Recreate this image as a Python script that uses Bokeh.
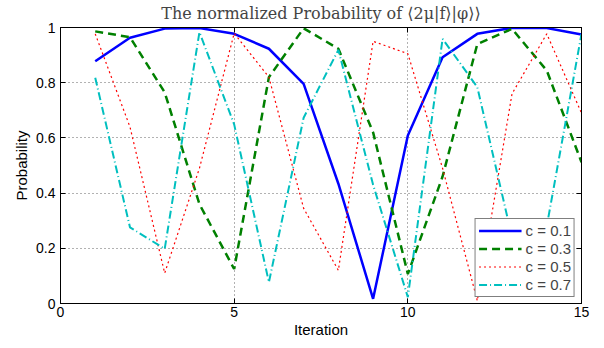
from bokeh.plotting import figure
from bokeh.models import Range1d, FixedTicker, LinearAxis, Legend, LegendItem
from bokeh.embed import file_html
from bokeh.resources import INLINE

iterations = list(range(1, 16))
prob_c01 = [0.878, 0.963, 0.996, 0.998, 0.977, 0.923, 0.796, 0.434, 0.017, 0.609, 0.892, 0.977, 0.999, 0.998, 0.975]
prob_c03 = [0.986, 0.965, 0.765, 0.36, 0.125, 0.82, 0.997, 0.923, 0.62, 0.107, 0.46, 0.94, 0.995, 0.844, 0.512]
prob_c05 = [0.977, 0.64, 0.11, 0.49, 0.979, 0.82, 0.345, 0.12, 0.95, 0.905, 0.49, 0.01, 0.76, 0.977, 0.69]
prob_c07 = [0.818, 0.276, 0.198, 0.983, 0.649, 0.077, 0.673, 0.919, 0.43, 0.023, 0.959, 0.784, 0.24, 0.28, 0.977]
series_labels = ["c = 0.1", "c = 0.3", "c = 0.5", "c = 0.7"]

x_ticks = [0, 5, 10, 15]
x_tick_labels = ["0", "5", "10", "15"]
y_ticks = [0, 0.2, 0.4, 0.6, 0.8, 1.0]
y_tick_labels = ["0", "0.2", "0.4", "0.6", "0.8", "1"]

title_text = "The normalized Probability of \u27e82\u03bc|f\u27e9|\u03c6\u27e9\u27e9"

p = figure(width=604, height=348, output_backend="svg", toolbar_location=None,
           x_range=Range1d(0, 15), y_range=Range1d(0, 1),
           min_border_left=60, min_border_right=23, min_border_top=27, min_border_bottom=45)
p.title.text = title_text
p.title.align = "center"
p.title.vertical_align = "top"
p.title.text_font = "DejaVu Serif"
p.title.text_font_size = "16px"
p.title.text_font_style = "normal"
p.title.standoff = 6
p.title.offset = 0

p.outline_line_color = "black"
p.outline_line_width = 1
p.outline_line_alpha = 1

for ax in [p.xaxis[0], p.yaxis[0]]:
    ax.major_tick_in = 5
    ax.major_tick_out = 0
    ax.minor_tick_line_color = None
    ax.axis_line_color = "black"
    ax.major_tick_line_color = "black"
    ax.major_label_text_font = "Liberation Sans"
    ax.major_label_text_font_size = "14px"
    ax.major_label_text_color = "black"
    ax.axis_label_text_font = "Liberation Sans"
    ax.axis_label_text_font_size = "15px"
    ax.axis_label_text_font_style = "normal"
    ax.axis_label_text_color = "black"

p.xaxis[0].ticker = FixedTicker(ticks=x_ticks)
p.xaxis[0].major_label_overrides = dict(zip(x_ticks, x_tick_labels))
p.xaxis[0].major_label_standoff = 3
p.xaxis[0].axis_label = "Iteration"
p.xaxis[0].axis_label_standoff = 1
p.yaxis[0].ticker = FixedTicker(ticks=y_ticks)
p.yaxis[0].major_label_overrides = dict(zip(y_ticks, y_tick_labels))
p.yaxis[0].major_label_standoff = 5
p.yaxis[0].axis_label = "Probability"
p.yaxis[0].axis_label_standoff = 3

top_ax = LinearAxis(ticker=FixedTicker(ticks=x_ticks), major_tick_in=5, major_tick_out=0,
                    minor_tick_line_color=None, major_label_text_font_size="0px",
                    major_label_text_color=None, major_label_standoff=0, axis_line_color="black")
right_ax = LinearAxis(ticker=FixedTicker(ticks=y_ticks), major_tick_in=5, major_tick_out=0,
                      minor_tick_line_color=None, major_label_text_font_size="0px",
                      major_label_text_color=None, major_label_standoff=0, axis_line_color="black")
p.add_layout(top_ax, "above")
p.add_layout(right_ax, "right")

p.xgrid.ticker = FixedTicker(ticks=x_ticks)
p.ygrid.ticker = FixedTicker(ticks=y_ticks)
for g in [p.xgrid[0], p.ygrid[0]]:
    g.grid_line_color = "#555555"
    g.grid_line_dash = "1 3"
    g.grid_line_width = 1
    g.grid_line_alpha = 0.9

r1 = p.line(iterations, prob_c01, line_color="#0000ff", line_width=2.5)
r2 = p.line(iterations, prob_c03, line_color="#008000", line_width=2.5, line_dash="8 5")
r3 = p.line(iterations, prob_c05, line_color="#ff0000", line_width=1.2, line_dash="2 3")
r4 = p.line(iterations, prob_c07, line_color="#00bfbf", line_width=2, line_dash="8 3 1 3")

legend = Legend(items=[LegendItem(label=lab, renderers=[r]) for lab, r in zip(series_labels, [r1, r2, r3, r4])],
                location="bottom_right")
legend.label_text_font = "Liberation Sans"
legend.label_text_font_size = "15px"
legend.glyph_width = 43
legend.glyph_height = 15
legend.label_height = 15
legend.spacing = 1
legend.padding = 3
legend.margin = 6
legend.label_standoff = 4
legend.border_line_color = "black"
legend.border_line_width = 1.5
legend.background_fill_color = "white"
legend.background_fill_alpha = 1
p.add_layout(legend, "center")

open("out.html", "w").write(file_html(p, INLINE))
